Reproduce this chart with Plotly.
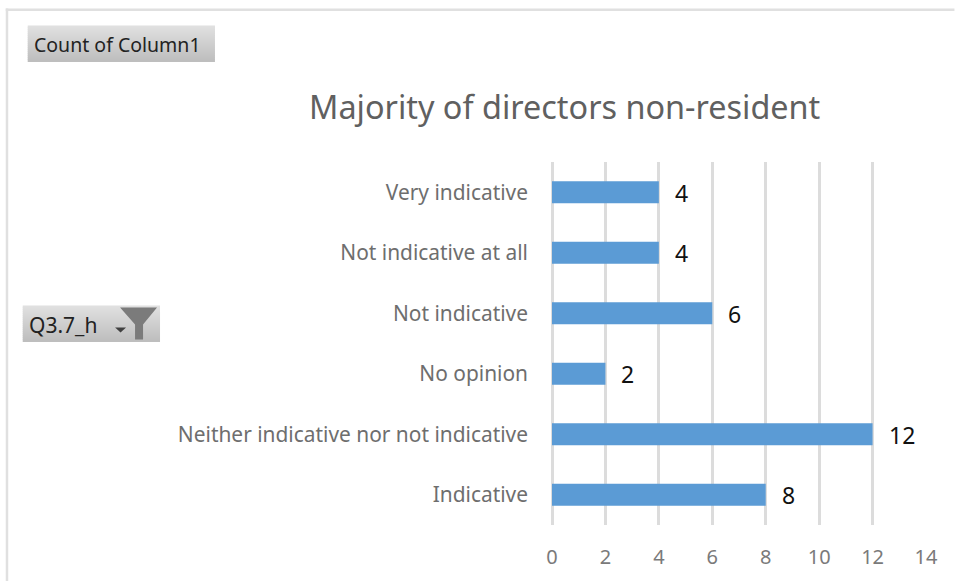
import plotly.graph_objects as go

categories = ["Indicative", "Neither indicative nor not indicative", "No opinion",
              "Not indicative", "Not indicative at all", "Very indicative"]
values = [8, 12, 2, 6, 4, 4]
tick_values = [0, 2, 4, 6, 8, 10, 12, 14]
title_text = "Majority of directors non-resident"
button_value = "Count of Column1"
button_filter = "Q3.7_h"

W, H = 955, 581
L, R, T, B = 552, 926.5, 162, 525
FONT = "Noto Sans"


def px(x):
    return (x - L) / (R - L)


def py(y):
    return (B - y) / (B - T)


def rect(x0, y0, x1, y1, color, layer="above"):
    return dict(type="rect", xref="paper", yref="paper", x0=px(x0), x1=px(x1),
                y0=py(y0), y1=py(y1), fillcolor=color, line_width=0, layer=layer)


def gradient(x0, y0, x1, y1, top=(224, 224, 224), bottom=(190, 190, 190), n=18):
    out = []
    h = (y1 - y0) / n
    for i in range(n):
        t = i / (n - 1)
        c = tuple(round(a + (b - a) * t) for a, b in zip(top, bottom))
        out.append(rect(x0, y0 + i * h, x1, y0 + (i + 1) * h + 0.4, f"rgb{c}"))
    return out


def path(points, color):
    d = "M " + " L ".join(f"{px(x)},{py(y)}" for x, y in points) + " Z"
    return dict(type="path", xref="paper", yref="paper", path=d,
                fillcolor=color, line_width=0, layer="above")


shapes = [rect(5, 8.5, 955, 11, "#e0e0e0"), rect(5, 8.5, 7.5, 581, "#e0e0e0")]
shapes += gradient(27, 25.5, 214.5, 61.5)
shapes += gradient(22, 305.5, 159.5, 341.5)
shapes.append(path([(119.5, 307.5), (156.5, 307.5), (142.5, 324.5), (142.5, 339.5), (134.5, 339.5), (134.5, 324.5)], "#7b7b7b"))
shapes.append(path([(114.5, 327.5), (125.5, 327.5), (120, 332.5)], "#404040"))

fig = go.Figure(go.Bar(
    y=categories, x=values, orientation="h", marker=dict(color="#5b9bd5", line_width=0),
    width=0.365, hoverinfo="skip",
))

annotations = [
    dict(text=title_text, xref="paper", yref="paper", x=px(565), y=py(106), xanchor="center",
         yanchor="middle", showarrow=False, font=dict(family=FONT, size=32.4, color="#606060")),
    dict(text=button_value, xref="paper", yref="paper", x=px(31), y=py(44), xanchor="left",
         yanchor="middle", showarrow=False, font=dict(family=FONT, size=19.5, color="#222222")),
    dict(text=button_filter, xref="paper", yref="paper", x=px(26), y=py(325), xanchor="left",
         yanchor="middle", showarrow=False, font=dict(family=FONT, size=21, color="#222222")),
]
for cat, val in zip(categories, values):
    annotations.append(dict(text=str(val), x=val, y=cat, xref="x", yref="y", xanchor="left",
                            yanchor="middle", xshift=14, yshift=-0.5, showarrow=False,
                            font=dict(family=FONT, size=23, color="#111111")))

fig.update_layout(
    width=W, height=H, autosize=False,
    margin=dict(l=L, r=W - R, t=T, b=H - B, pad=0),
    paper_bgcolor="white", plot_bgcolor="white", showlegend=False,
    font=dict(family=FONT, color="#6e6e6e"),
    shapes=shapes,
    annotations=annotations,
)
fig.update_xaxes(range=[0, 14], tickmode="array", tickvals=tick_values, showgrid=True, automargin=False,
                 gridcolor="#dcdcdc", gridwidth=2.5, zeroline=True, zerolinecolor="#dcdcdc",
                 zerolinewidth=2.5, showline=False, ticks="",
                 tickfont=dict(family=FONT, size=20, color="#7a7a7a"), ticklabelstandoff=18)
fig.update_yaxes(categoryorder="array", categoryarray=categories, showgrid=False, zeroline=False,
                 showline=False, ticks="", ticklabelstandoff=23, automargin=False,
                 tickfont=dict(family=FONT, size=20.9, color="#6e6e6e"))

fig.write_html("out.html", config={"displayModeBar": False},
               post_script="document.body.style.margin='0';document.body.style.overflow='hidden';")
